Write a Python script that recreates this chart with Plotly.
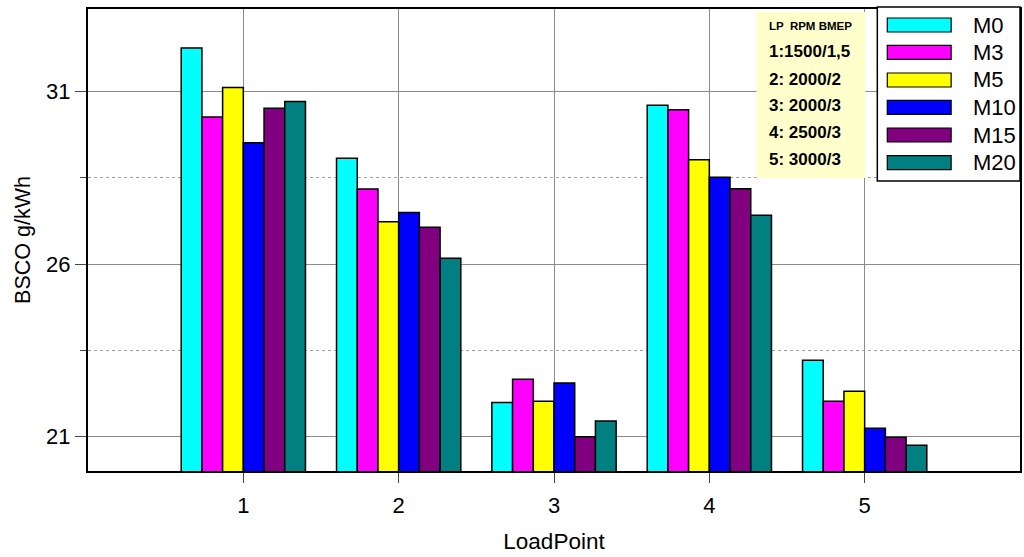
import plotly.graph_objects as go

# Load points and measured BSCO (g/kWh) for each fuel blend
load_points = [1, 2, 3, 4, 5]
series_names = ["M0", "M3", "M5", "M10", "M15", "M20"]
m0 = [32.27, 29.07, 21.99, 30.61, 23.21]
m3 = [30.27, 28.18, 22.66, 30.48, 22.02]
m5 = [31.12, 27.23, 22.02, 29.03, 22.31]
m10 = [29.52, 27.50, 22.55, 28.52, 21.24]
m15 = [30.52, 27.07, 20.99, 28.19, 20.98]
m20 = [30.72, 26.17, 21.45, 27.42, 20.75]
series_values = [m0, m3, m5, m10, m15, m20]
colors = ["#00FFFF", "#FF00FF", "#FFFF00", "#0000FF", "#800080", "#008080"]

# Operating conditions of each load point
info_header = "LP  RPM BMEP"
info_lines = ["1:1500/1,5", "2: 2000/2", "3: 2000/3", "4: 2500/3", "5: 3000/3"]

FONT = "Liberation Sans, Arial, sans-serif"

W, H = 1024, 557
ML, MR, MT, MB = 88, 2, 9, 86
PW, PH = W - ML - MR, H - MT - MB


def px(x):
    return (x - ML) / PW


def py(y):
    return (H - MB - y) / PH


fig = go.Figure()
for name, vals, col in zip(series_names, series_values, colors):
    fig.add_trace(go.Bar(
        x=load_points, y=vals, name=name,
        marker=dict(color=col, line=dict(color="black", width=1.5)),
        showlegend=False,
    ))

shapes = []
annotations = []

# Info box with load point conditions
shapes.append(dict(type="rect", xref="paper", yref="paper",
                   x0=px(758), x1=px(867), y0=py(178), y1=py(12),
                   fillcolor="#FFFFCC", line=dict(width=0), layer="above"))
annotations.append(dict(xref="paper", yref="paper", x=px(768), y=py(26),
                        xanchor="left", yanchor="middle", showarrow=False,
                        text="<b>" + info_header + "</b>",
                        font=dict(family=FONT, size=11.5, color="black")))
info_y = [51.7, 79.3, 105.3, 132.7, 159.3]
for t, yy in zip(info_lines, info_y):
    annotations.append(dict(xref="paper", yref="paper", x=px(768), y=py(yy),
                            xanchor="left", yanchor="middle", showarrow=False,
                            text="<b>" + t + "</b>",
                            font=dict(family=FONT, size=17, color="black")))

# Legend box with wide swatches
shapes.append(dict(type="rect", xref="paper", yref="paper",
                   x0=px(879), x1=px(1022), y0=py(181), y1=py(7),
                   fillcolor="white", line=dict(color="black", width=1.5),
                   layer="above"))
row_y = [25, 52.3, 80, 107.3, 135, 162.7]
for name, col, yy in zip(series_names, colors, row_y):
    shapes.append(dict(type="rect", xref="paper", yref="paper",
                       x0=px(889), x1=px(953), y0=py(yy + 7), y1=py(yy - 7),
                       fillcolor=col, line=dict(color="black", width=1.2),
                       layer="above"))
    annotations.append(dict(xref="paper", yref="paper", x=px(973), y=py(yy),
                            xanchor="left", yanchor="middle", showarrow=False,
                            text=name,
                            font=dict(family=FONT, size=22, color="black")))

fig.update_layout(
    width=W, height=H,
    margin=dict(l=ML, r=MR, t=MT, b=MB, pad=0),
    paper_bgcolor="white", plot_bgcolor="white",
    barmode="group", bargap=0.2, bargroupgap=0,
    font=dict(family=FONT, size=22, color="black"),
    shapes=shapes, annotations=annotations,
    xaxis=dict(
        range=[0, 6], tickvals=load_points, ticktext=[str(v) for v in load_points],
        showgrid=True, gridcolor="#8c8c8c", gridwidth=1,
        ticks="outside", ticklen=10, tickcolor="#444", tickwidth=1,
        showline=True, linecolor="black", linewidth=2, mirror=True,
        zeroline=False, tickfont=dict(size=22), ticklabelstandoff=4,
        title=dict(text="LoadPoint", font=dict(size=22.5), standoff=16),
    ),
    yaxis=dict(
        range=[20, 33.4], tick0=21, dtick=5,
        showgrid=True, gridcolor="#8c8c8c", gridwidth=1,
        ticks="outside", ticklen=11, tickcolor="#444", tickwidth=1,
        showline=True, linecolor="black", linewidth=2, mirror=True,
        zeroline=False, tickfont=dict(size=22),
        minor=dict(tick0=21, dtick=2.5, ticks="outside", ticklen=6,
                   tickcolor="#444", showgrid=True, gridcolor="#a0a0a0",
                   griddash="dot", gridwidth=1),
        title=dict(text="BSCO g/kWh", font=dict(size=21.5), standoff=10),
    ),
)

fig.write_html("out.html")
